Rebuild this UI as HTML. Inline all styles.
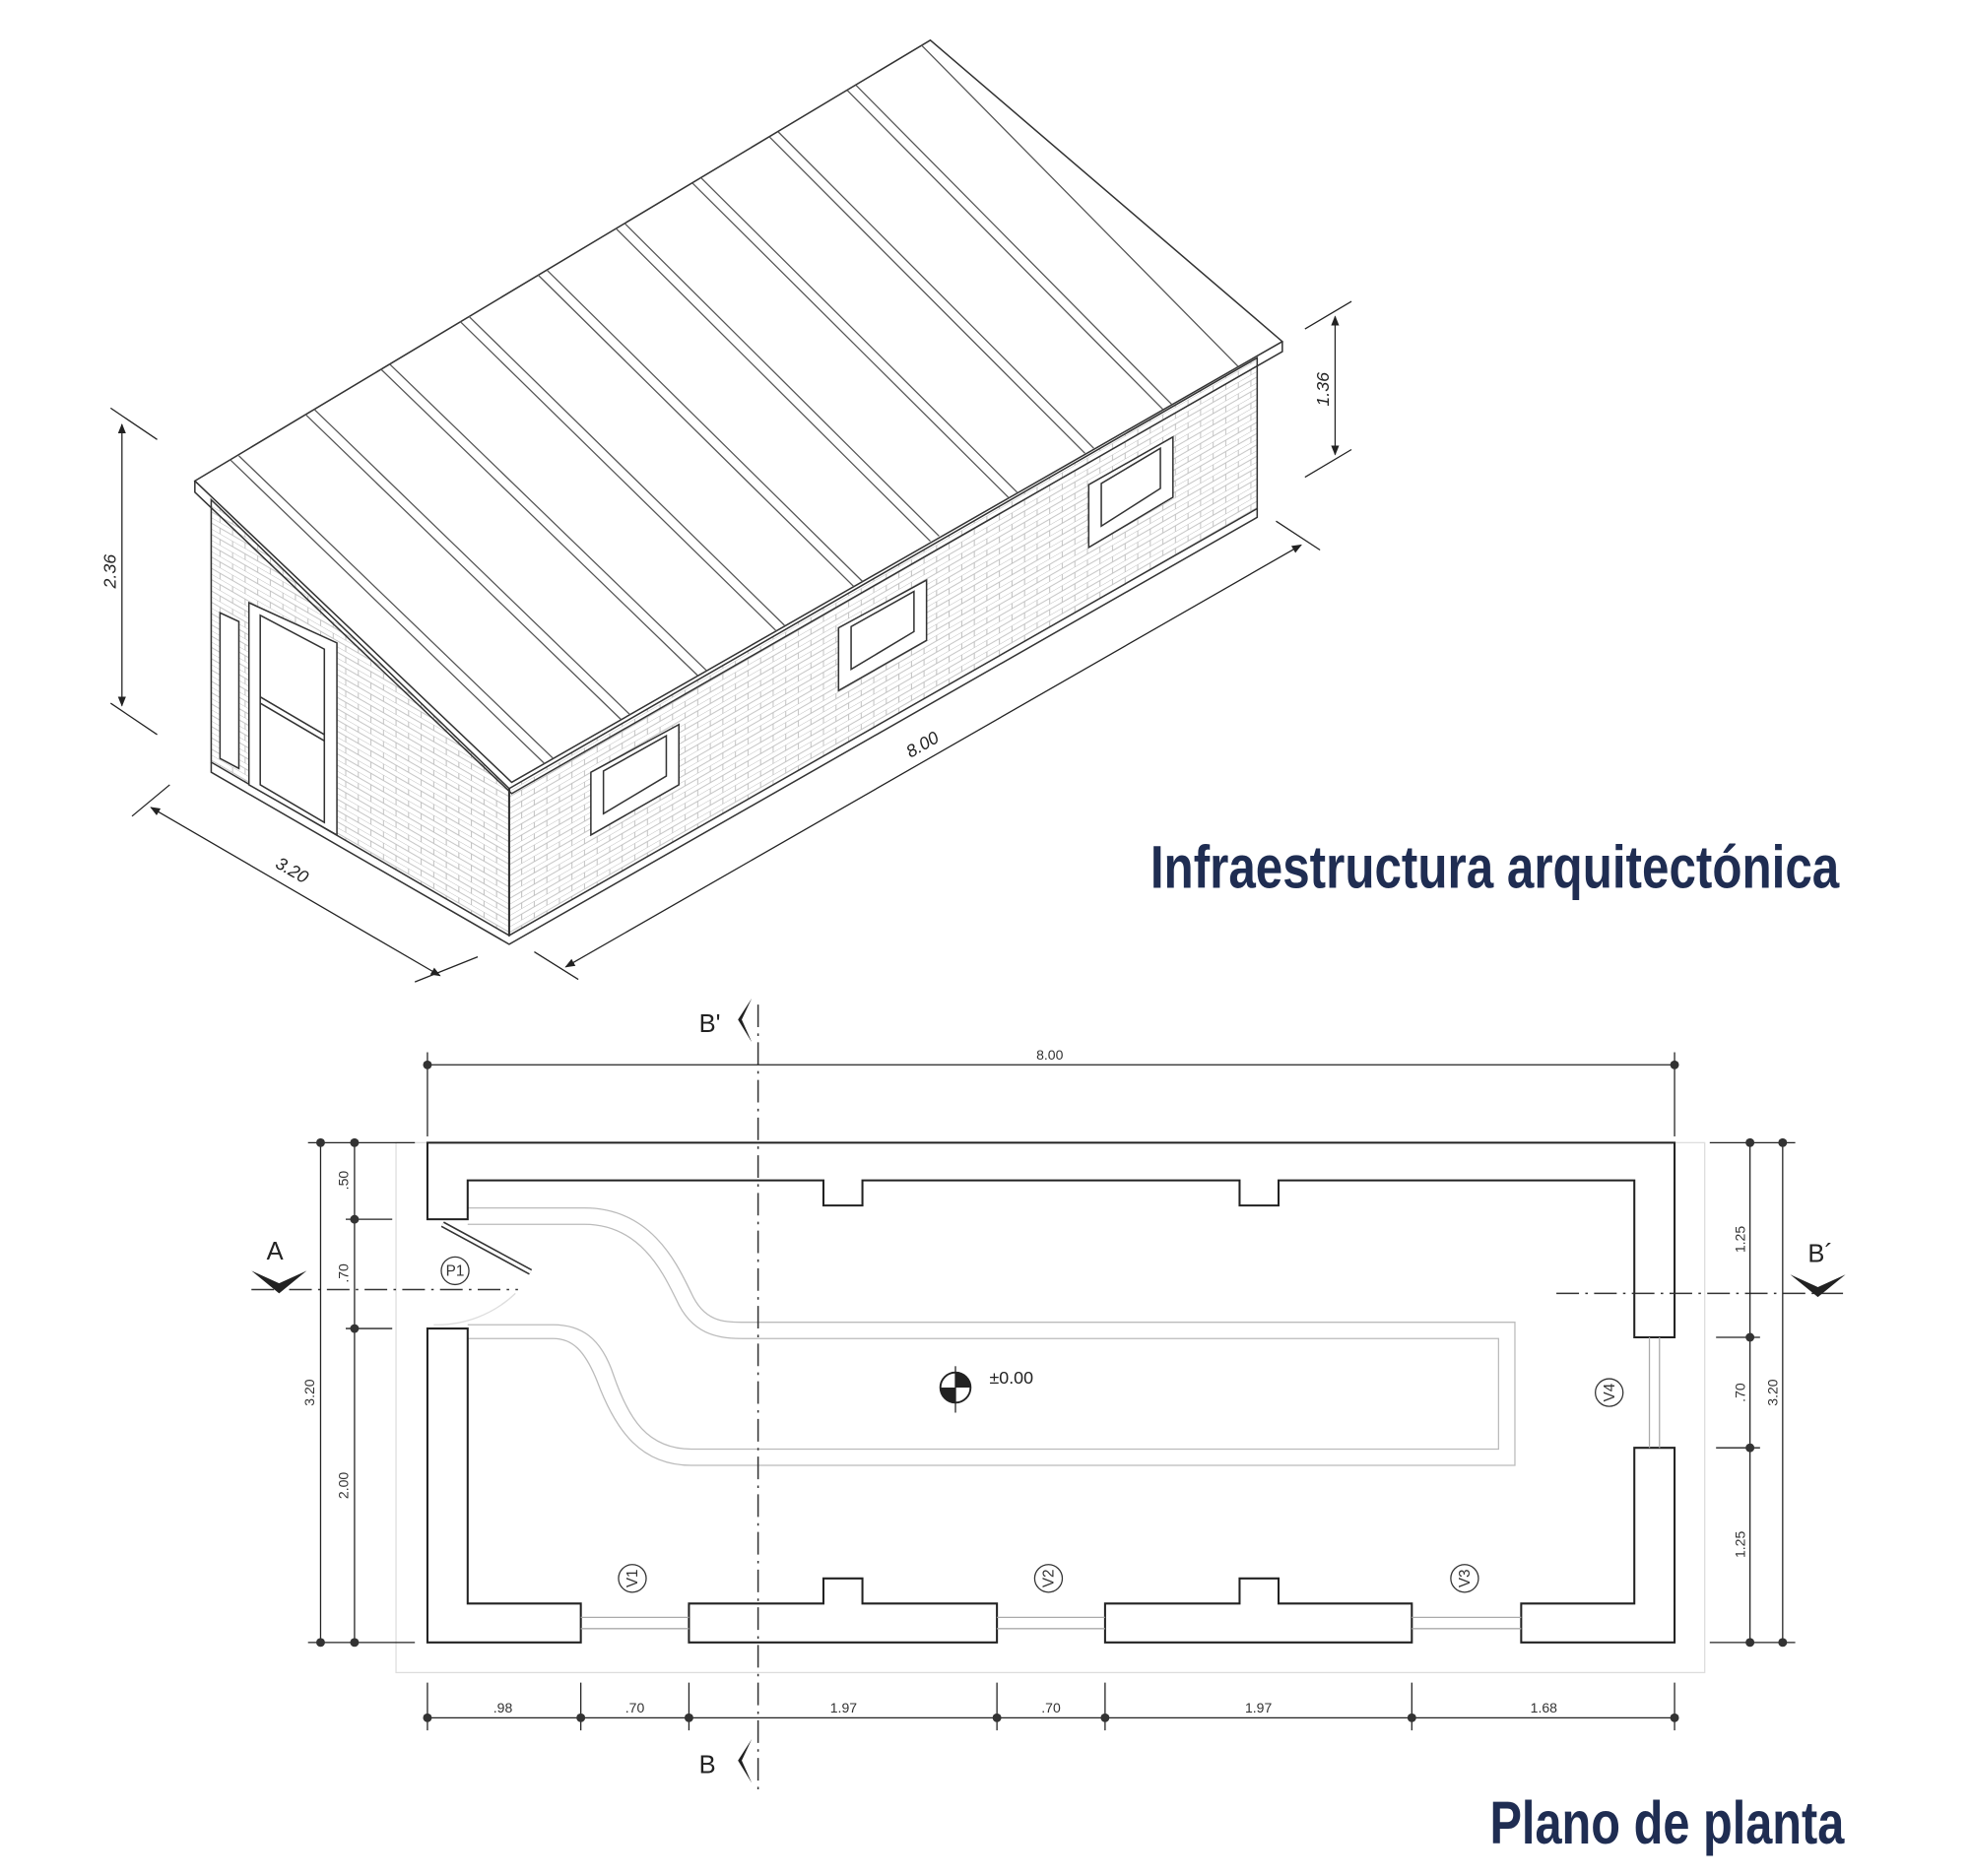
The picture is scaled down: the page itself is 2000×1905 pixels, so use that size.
<!DOCTYPE html>
<html><head><meta charset="utf-8"><style>
html,body{margin:0;padding:0;background:#fff;}
svg{display:block;}
</style></head><body>
<svg width="2000" height="1905" viewBox="0 0 1567 1494" preserveAspectRatio="none" xmlns="http://www.w3.org/2000/svg" font-family="Liberation Sans, sans-serif">
<defs>
<pattern id="brickL" width="20" height="9" patternUnits="userSpaceOnUse" patternTransform="skewY(-30)">
<path d="M0 0H20M0 4.5H20M5 0V4.5M15 4.5V9" stroke="#bbb" stroke-width="0.7" fill="none"/>
</pattern>
<pattern id="brickG" width="20" height="9" patternUnits="userSpaceOnUse" patternTransform="skewY(30)">
<path d="M0 0H20M0 4.5H20M5 0V4.5M15 4.5V9" stroke="#bbb" stroke-width="0.7" fill="none"/>
</pattern>
<marker id="ar" viewBox="0 0 10 10" refX="9" refY="5" markerWidth="8" markerHeight="8" orient="auto-start-reverse"><path d="M0 1L10 5L0 9z" fill="#222"/></marker>
</defs>

<g stroke="#333" stroke-width="1.2" fill="none">
<polygon points="168,398 405,628 405,745 168,607" fill="url(#brickG)"/>
<polygon points="405,628 1000,285 1000,405 405,745" fill="url(#brickL)"/>
<line x1="405" y1="628" x2="405" y2="745" stroke-width="1.6"/>
<path d="M168,607 L168,615 L405,752 L1000,412 L1000,405"/>
<polygon points="155,383 740,32 1020,272 407,623" fill="#fff"/>
<path d="M155,383 L155,392 L407,632 L1020,280 L1020,272"/>
<g stroke="#555" stroke-width="1">
<path d="M183,366 L433,608 M190,363 L440,604"/>
<path d="M243,330 L494,573 M250,326 L501,569"/>
<path d="M303,294 L555,538 M310,290 L562,534"/>
<path d="M366,256 L617,502 M373,252 L624,498"/>
<path d="M428,219 L679,467 M435,215 L686,463"/>
<path d="M490,182 L740,431 M497,178 L747,427"/>
<path d="M551,146 L802,396 M558,142 L809,392"/>
<path d="M612,109 L863,361 M619,105 L870,357"/>
<path d="M674,72 L925,326 M681,68 L932,322"/>
<path d="M733,36 L985,292"/>
</g>
<polygon points="198,480 268,512 268,665 198,625" fill="#fff"/>
<polygon points="207,490 258,517 258,655 207,625" fill="#fff"/>
<line x1="207" y1="555" x2="258" y2="585"/>
<line x1="207" y1="560" x2="258" y2="590"/>
<polygon points="175,488 190,495 190,612 175,604" fill="#fff"/>
<g fill="#fff">
<polygon points="470,615 540,577 540,625 470,665"/>
<polygon points="480,614 530,586 530,618 480,648"/>
<polygon points="667,500 737,462 737,510 667,550"/>
<polygon points="677,499 727,471 727,503 677,533"/>
<polygon points="866,386 933,348 933,396 866,436"/>
<polygon points="876,385 923,357 923,389 876,419"/>
</g>
</g>
<g stroke="#222" stroke-width="1" fill="none">
<line x1="97" y1="338" x2="97" y2="562" marker-start="url(#ar)" marker-end="url(#ar)"/>
<line x1="88" y1="325" x2="125" y2="350"/><line x1="88" y1="560" x2="125" y2="585"/>
<line x1="1062" y1="252" x2="1062" y2="362" marker-start="url(#ar)" marker-end="url(#ar)"/>
<line x1="1038" y1="262" x2="1075" y2="240"/><line x1="1038" y1="380" x2="1075" y2="358"/>
<line x1="120" y1="643" x2="350" y2="777" marker-start="url(#ar)" marker-end="url(#ar)"/>
<line x1="105" y1="650" x2="135" y2="625"/><line x1="330" y1="782" x2="380" y2="762"/>
<line x1="450" y1="770" x2="1035" y2="434" marker-start="url(#ar)" marker-end="url(#ar)"/>
<line x1="425" y1="758" x2="460" y2="780"/><line x1="1015" y1="415" x2="1050" y2="438"/>
</g>
<g font-size="14" fill="#222" font-style="italic">
<text transform="translate(92,455) rotate(-90)" text-anchor="middle">2.36</text>
<text transform="translate(1057,310) rotate(-90)" text-anchor="middle">1.36</text>
<text transform="translate(230,697) rotate(30)" text-anchor="middle">3.20</text>
<text transform="translate(736,597) rotate(-30)" text-anchor="middle">8.00</text>
</g>
<text x="915" y="707" font-size="48" font-weight="bold" fill="#1f2d52" textLength="548" lengthAdjust="spacingAndGlyphs">Infraestructura arquitectónica</text>

<rect x="315" y="910" width="1041" height="422" fill="none" stroke="#ddd" stroke-width="1"/>
<g stroke="#bbb" stroke-width="1" fill="none">
<path d="M372,962 L465,962 C520,962 540,1010 550,1030 C560,1052 575,1053 590,1053 L1205,1053 L1205,1167 L550,1167 C510,1167 490,1140 475,1100 C465,1075 455,1066 440,1066 L372,1066"/>
<path d="M372,975 L465,975 C510,975 528,1015 538,1035 C550,1062 570,1066 590,1066 L1192,1066 L1192,1154 L550,1154 C515,1154 500,1130 488,1095 C478,1065 462,1055 440,1055 L372,1055"/>
</g>
<g stroke="#222" stroke-width="1.6" fill="#fff">
<path d="M340,971 L340,910 L1332,910 L1332,1065 L1300,1065 L1300,940 L1017,940 L1017,960 L986,960 L986,940 L686,940 L686,960 L655,960 L655,940 L372,940 L372,971 Z"/>
<path d="M340,1058 L372,1058 L372,1277 L462,1277 L462,1308 L340,1308 Z"/>
<path d="M548,1277 L655,1277 L655,1257 L686,1257 L686,1277 L793,1277 L793,1308 L548,1308 Z"/>
<path d="M879,1277 L986,1277 L986,1257 L1017,1257 L1017,1277 L1123,1277 L1123,1308 L879,1308 Z"/>
<path d="M1210,1277 L1300,1277 L1300,1153 L1332,1153 L1332,1308 L1210,1308 Z"/>
</g>
<g stroke="#aaa" stroke-width="1" fill="none">
<path d="M462,1288 H548 M462,1297 H548 M793,1288 H879 M793,1297 H879 M1123,1288 H1210 M1123,1297 H1210 M1312,1065 V1153 M1320,1065 V1153"/>
<path d="M345,1055 A90 90 0 0 0 410,1030" stroke="#ddd"/>
</g>
<line x1="352" y1="975" x2="422" y2="1013" stroke="#333" stroke-width="5"/>
<line x1="352" y1="975" x2="422" y2="1013" stroke="#fff" stroke-width="2.5"/>
<g stroke="#333" stroke-width="1.2" stroke-dasharray="18,5,2,5" fill="none">
<line x1="603" y1="800" x2="603" y2="1428"/>
<line x1="200" y1="1027" x2="412" y2="1027"/>
<line x1="1238" y1="1030" x2="1468" y2="1030"/>
</g>
<g fill="#222">
<path d="M200,1012 L222,1022 L244,1012 L222,1030 Z"/>
<path d="M1424,1015 L1446,1025 L1468,1015 L1446,1033 Z"/>
<path d="M598,795 L590,812 L598,830 L587,812 Z"/>
<path d="M598,1385 L590,1402 L598,1420 L587,1402 Z"/>
</g>
<g font-size="20" fill="#222">
<text x="212" y="1003">A</text>
<text x="1438" y="1005">B´</text>
<text x="556" y="822">B'</text>
<text x="556" y="1412">B</text>
</g>
<g stroke="#222" stroke-width="1" fill="none">
<line x1="340" y1="848" x2="1332" y2="848"/>
<line x1="340" y1="838" x2="340" y2="905"/><line x1="1332" y1="838" x2="1332" y2="905"/>
<line x1="255" y1="910" x2="255" y2="1308"/><line x1="282" y1="910" x2="282" y2="1308"/>
<line x1="245" y1="910" x2="330" y2="910"/><line x1="245" y1="1308" x2="330" y2="1308"/>
<line x1="275" y1="971" x2="312" y2="971"/><line x1="275" y1="1058" x2="312" y2="1058"/>
<line x1="1392" y1="910" x2="1392" y2="1308"/><line x1="1418" y1="910" x2="1418" y2="1308"/>
<line x1="1360" y1="910" x2="1428" y2="910"/><line x1="1360" y1="1308" x2="1428" y2="1308"/>
<line x1="1365" y1="1065" x2="1400" y2="1065"/><line x1="1365" y1="1153" x2="1400" y2="1153"/>
<line x1="340" y1="1368" x2="1332" y2="1368"/>
<path d="M340,1340V1378 M462,1340V1378 M548,1340V1378 M793,1340V1378 M879,1340V1378 M1123,1340V1378 M1332,1340V1378"/>
</g>
<g fill="#333">
<circle cx="340" cy="848" r="3.5"/><circle cx="1332" cy="848" r="3.5"/>
<circle cx="255" cy="910" r="3.5"/><circle cx="282" cy="910" r="3.5"/><circle cx="255" cy="1308" r="3.5"/><circle cx="282" cy="1308" r="3.5"/>
<circle cx="282" cy="971" r="3.5"/><circle cx="282" cy="1058" r="3.5"/>
<circle cx="1392" cy="910" r="3.5"/><circle cx="1418" cy="910" r="3.5"/><circle cx="1392" cy="1308" r="3.5"/><circle cx="1418" cy="1308" r="3.5"/>
<circle cx="1392" cy="1065" r="3.5"/><circle cx="1392" cy="1153" r="3.5"/>
<circle cx="340" cy="1368" r="3.5"/><circle cx="462" cy="1368" r="3.5"/><circle cx="548" cy="1368" r="3.5"/><circle cx="793" cy="1368" r="3.5"/><circle cx="879" cy="1368" r="3.5"/><circle cx="1123" cy="1368" r="3.5"/><circle cx="1332" cy="1368" r="3.5"/>
</g>
<g font-size="11" fill="#333" text-anchor="middle">
<text x="835" y="844">8.00</text>
<text x="400" y="1364">.98</text><text x="505" y="1364">.70</text><text x="671" y="1364">1.97</text>
<text x="836" y="1364">.70</text><text x="1001" y="1364">1.97</text><text x="1228" y="1364">1.68</text>
<text transform="translate(277,940) rotate(-90)">.50</text>
<text transform="translate(277,1014) rotate(-90)">.70</text>
<text transform="translate(277,1183) rotate(-90)">2.00</text>
<text transform="translate(250,1109) rotate(-90)">3.20</text>
<text transform="translate(1388,987) rotate(-90)">1.25</text>
<text transform="translate(1388,1109) rotate(-90)">.70</text>
<text transform="translate(1388,1230) rotate(-90)">1.25</text>
<text transform="translate(1414,1109) rotate(-90)">3.20</text>
</g>
<g stroke="#333" stroke-width="1" fill="#fff">
<circle cx="362" cy="1012" r="11"/><circle cx="1280" cy="1109" r="11"/>
<circle cx="503" cy="1257" r="11"/><circle cx="834" cy="1257" r="11"/><circle cx="1165" cy="1257" r="11"/>
</g>
<g font-size="12" fill="#333" text-anchor="middle">
<text x="362" y="1016">P1</text><text transform="translate(1284,1109) rotate(-90)">V4</text>
<text transform="translate(507,1257) rotate(-90)">V1</text><text transform="translate(838,1257) rotate(-90)">V2</text><text transform="translate(1169,1257) rotate(-90)">V3</text>
</g>
<circle cx="760" cy="1105" r="12" fill="#fff" stroke="#222" stroke-width="1.5"/>
<path d="M760,1093 A12 12 0 0 1 772,1105 L760,1105Z M760,1117 A12 12 0 0 1 748,1105 L760,1105Z" fill="#222"/>
<line x1="760" y1="1088" x2="760" y2="1125" stroke="#222"/>
<text x="787" y="1102" font-size="14" fill="#222">±0.00</text>
<text x="1185" y="1468" font-size="48" font-weight="bold" fill="#1f2d52" textLength="282" lengthAdjust="spacingAndGlyphs">Plano de planta</text>
</svg>
</body></html>
